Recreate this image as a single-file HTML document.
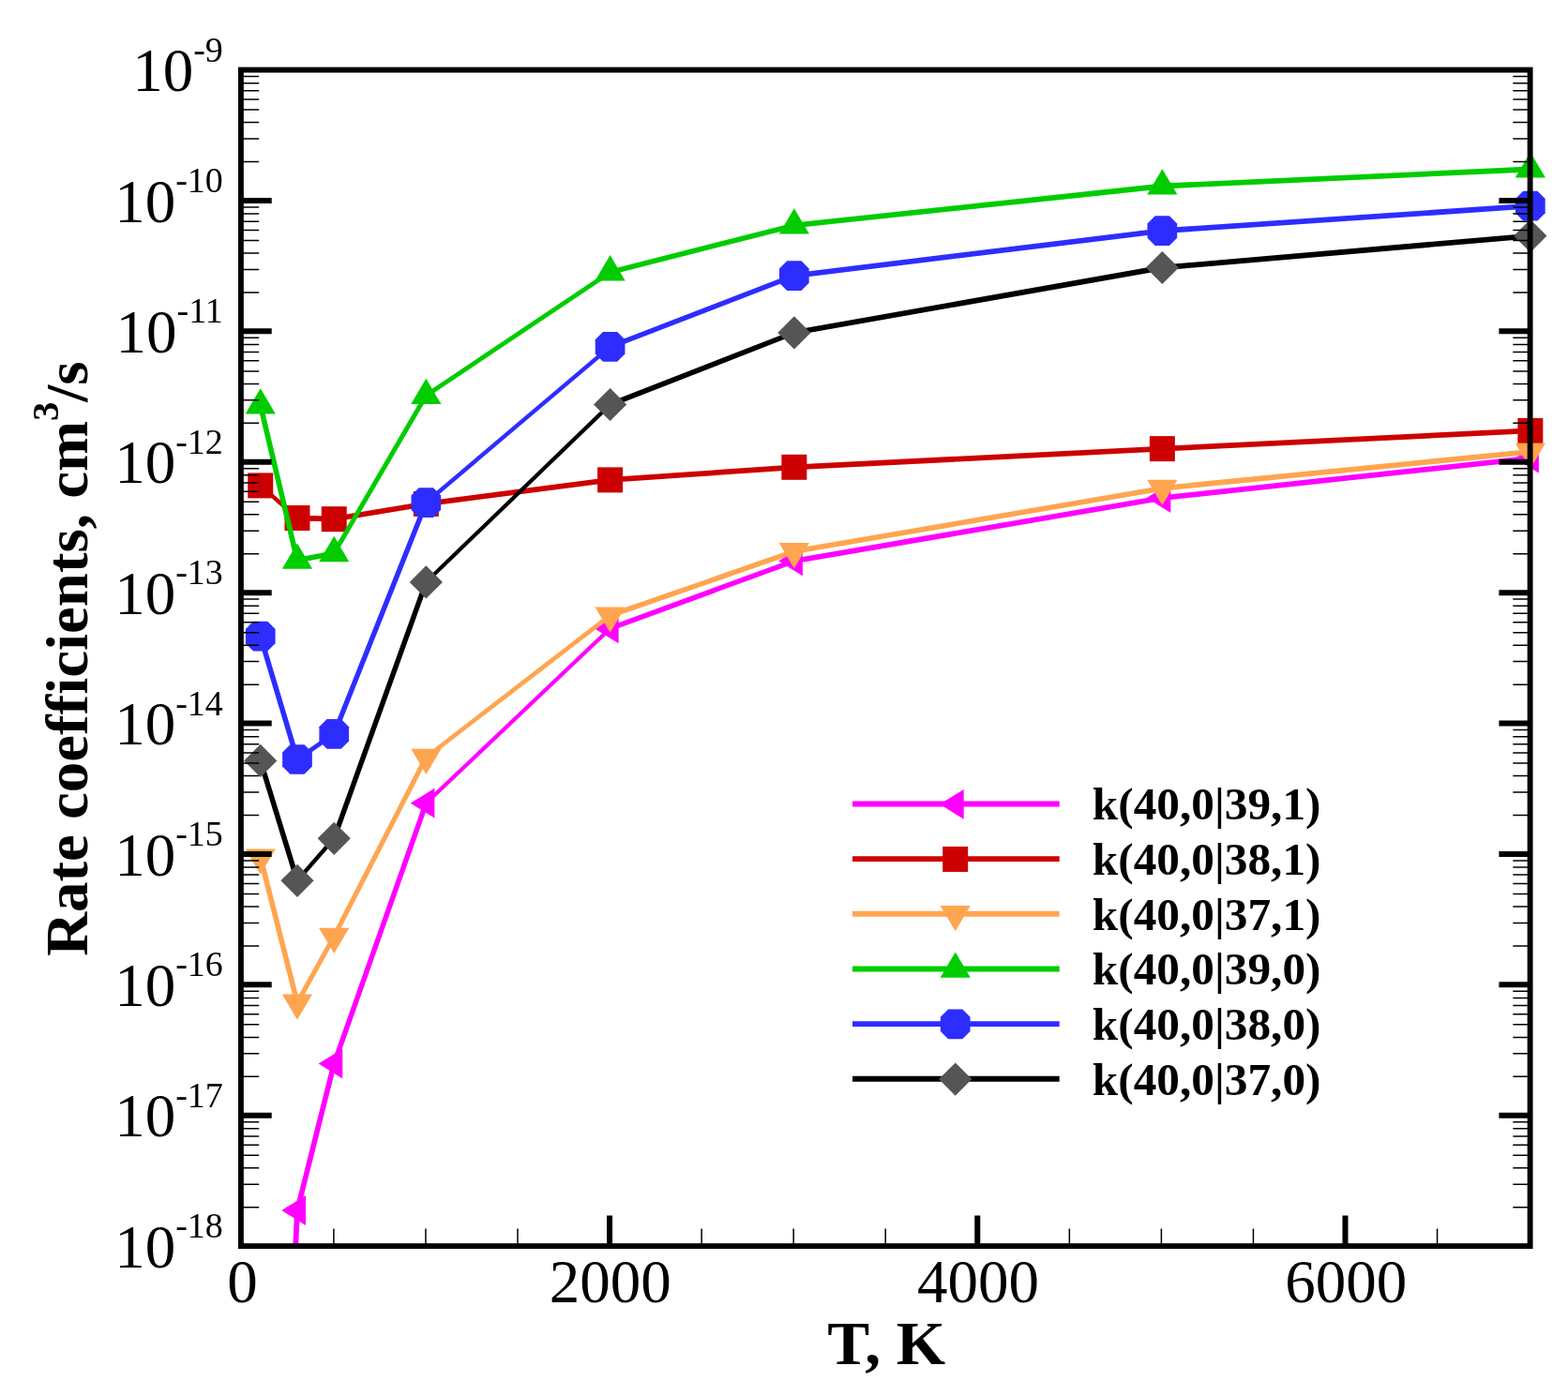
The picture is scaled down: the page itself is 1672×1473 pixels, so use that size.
<!DOCTYPE html>
<html lang="en">
<head>
<meta charset="utf-8">
<title>Rate coefficients vs temperature</title>
<style>
html,body{margin:0;padding:0;background:#fff;}
body{width:1672px;height:1473px;overflow:hidden;}
svg{display:block;}
text{font-family:"Liberation Serif",serif;fill:#000;}
.tick{font-size:65px;}
.sup{font-size:38px;}
.ttl{font-size:65px;font-weight:bold;}
.tsup{font-size:40px;font-weight:bold;}
.leg{font-size:47.7px;font-weight:bold;}
</style>
</head>
<body>
<svg width="1672" height="1473" viewBox="0 0 1672 1473">
<rect x="0" y="0" width="1672" height="1473" fill="#ffffff"/>
<defs><clipPath id="plotclip"><rect x="256.9" y="74.55" width="1374.6999999999998" height="1254.55"/></clipPath></defs>

<g><g clip-path="url(#plotclip)" fill="#FF00FF">
<polygon points="274.83,2145.00 314.08,1291.00 319.88,1291.00 280.62,2145.00"/>
<polygon points="314.08,1291.00 353.33,1134.60 359.12,1134.60 319.88,1291.00"/>
<polygon points="353.33,1134.60 451.45,856.70 457.25,856.70 359.12,1134.60"/>
<polygon points="454.35,853.80 650.60,667.50 650.60,673.30 454.35,859.60"/>
<polygon points="650.60,667.50 846.85,595.40 846.85,601.20 650.60,673.30"/>
<polygon points="846.85,595.40 1239.35,528.20 1239.35,534.00 846.85,601.20"/>
<polygon points="1239.35,528.20 1631.85,485.80 1631.85,491.60 1239.35,534.00"/>
</g>
<polygon points="300.38,1291.00 325.98,1275.10 325.98,1306.90" fill="#FF00FF"/>
<polygon points="339.62,1134.60 365.23,1118.70 365.23,1150.50" fill="#FF00FF"/>
<polygon points="437.75,856.70 463.35,840.80 463.35,872.60" fill="#FF00FF"/>
<polygon points="634.00,670.40 659.60,654.50 659.60,686.30" fill="#FF00FF"/>
<polygon points="830.25,598.30 855.85,582.40 855.85,614.20" fill="#FF00FF"/>
<polygon points="1222.75,531.10 1248.35,515.20 1248.35,547.00" fill="#FF00FF"/>
<polygon points="1615.25,488.70 1640.85,472.80 1640.85,504.60" fill="#FF00FF"/>
</g>

<g><g clip-path="url(#plotclip)" fill="#CC0000">
<polygon points="277.73,515.00 316.98,549.60 316.98,555.40 277.73,520.80"/>
<polygon points="316.98,549.60 356.23,550.80 356.23,556.60 316.98,555.40"/>
<polygon points="356.23,550.80 454.35,534.50 454.35,540.30 356.23,556.60"/>
<polygon points="454.35,534.50 650.60,509.00 650.60,514.80 454.35,540.30"/>
<polygon points="650.60,509.00 846.85,495.40 846.85,501.20 650.60,514.80"/>
<polygon points="846.85,495.40 1239.35,475.75 1239.35,481.55 846.85,501.20"/>
<polygon points="1239.35,475.75 1631.85,456.50 1631.85,462.30 1239.35,481.55"/>
</g>
<rect x="264.23" y="504.40" width="27.0" height="27.0" fill="#CC0000"/>
<rect x="303.48" y="539.00" width="27.0" height="27.0" fill="#CC0000"/>
<rect x="342.73" y="540.20" width="27.0" height="27.0" fill="#CC0000"/>
<rect x="440.85" y="523.90" width="27.0" height="27.0" fill="#CC0000"/>
<rect x="637.10" y="498.40" width="27.0" height="27.0" fill="#CC0000"/>
<rect x="833.35" y="484.80" width="27.0" height="27.0" fill="#CC0000"/>
<rect x="1225.85" y="465.15" width="27.0" height="27.0" fill="#CC0000"/>
<rect x="1618.35" y="445.90" width="27.0" height="27.0" fill="#CC0000"/>
</g>

<g><g clip-path="url(#plotclip)" fill="#FFA550">
<polygon points="274.83,914.50 314.08,1069.50 319.88,1069.50 280.62,914.50"/>
<polygon points="314.08,1069.50 353.33,998.80 359.12,998.80 319.88,1069.50"/>
<polygon points="353.33,998.80 451.45,807.80 457.25,807.80 359.12,998.80"/>
<polygon points="454.35,804.90 650.60,653.60 650.60,659.40 454.35,810.70"/>
<polygon points="650.60,653.60 846.85,585.30 846.85,591.10 650.60,659.40"/>
<polygon points="846.85,585.30 1239.35,517.90 1239.35,523.70 846.85,591.10"/>
<polygon points="1239.35,517.90 1631.85,478.90 1631.85,484.70 1239.35,523.70"/>
</g>
<polygon points="277.73,932.70 293.83,905.40 261.62,905.40" fill="#FFA550"/>
<polygon points="316.98,1087.70 333.08,1060.40 300.88,1060.40" fill="#FFA550"/>
<polygon points="356.23,1017.00 372.33,989.70 340.12,989.70" fill="#FFA550"/>
<polygon points="454.35,826.00 470.45,798.70 438.25,798.70" fill="#FFA550"/>
<polygon points="650.60,674.70 666.70,647.40 634.50,647.40" fill="#FFA550"/>
<polygon points="846.85,606.40 862.95,579.10 830.75,579.10" fill="#FFA550"/>
<polygon points="1239.35,539.00 1255.45,511.70 1223.25,511.70" fill="#FFA550"/>
<polygon points="1631.85,500.00 1647.95,472.70 1615.75,472.70" fill="#FFA550"/>
</g>

<g><g clip-path="url(#plotclip)" fill="#00CC00">
<polygon points="274.83,432.50 314.08,597.70 319.88,597.70 280.62,432.50"/>
<polygon points="316.98,594.80 356.23,587.15 356.23,592.95 316.98,600.60"/>
<polygon points="353.33,590.05 451.45,421.85 457.25,421.85 359.12,590.05"/>
<polygon points="454.35,418.95 650.60,287.40 650.60,293.20 454.35,424.75"/>
<polygon points="650.60,287.40 846.85,237.50 846.85,243.30 650.60,293.20"/>
<polygon points="846.85,237.50 1239.35,195.60 1239.35,201.40 846.85,243.30"/>
<polygon points="1239.35,195.60 1631.85,177.60 1631.85,183.40 1239.35,201.40"/>
</g>
<polygon points="277.73,414.30 293.83,441.60 261.62,441.60" fill="#00CC00"/>
<polygon points="316.98,579.50 333.08,606.80 300.88,606.80" fill="#00CC00"/>
<polygon points="356.23,571.85 372.33,599.15 340.12,599.15" fill="#00CC00"/>
<polygon points="454.35,403.65 470.45,430.95 438.25,430.95" fill="#00CC00"/>
<polygon points="650.60,272.10 666.70,299.40 634.50,299.40" fill="#00CC00"/>
<polygon points="846.85,222.20 862.95,249.50 830.75,249.50" fill="#00CC00"/>
<polygon points="1239.35,180.30 1255.45,207.60 1223.25,207.60" fill="#00CC00"/>
<polygon points="1631.85,162.30 1647.95,189.60 1615.75,189.60" fill="#00CC00"/>
</g>

<g><g clip-path="url(#plotclip)" fill="#2D2DFF">
<polygon points="274.83,678.70 314.08,810.00 319.88,810.00 280.62,678.70"/>
<polygon points="316.98,807.10 356.23,780.00 356.23,785.80 316.98,812.90"/>
<polygon points="353.33,782.90 451.45,536.20 457.25,536.20 359.12,782.90"/>
<polygon points="454.35,533.30 650.60,366.90 650.60,372.70 454.35,539.10"/>
<polygon points="650.60,366.90 846.85,291.20 846.85,297.00 650.60,372.70"/>
<polygon points="846.85,291.20 1239.35,243.30 1239.35,249.10 846.85,297.00"/>
<polygon points="1239.35,243.30 1631.85,216.80 1631.85,222.60 1239.35,249.10"/>
</g>
<polygon points="270.12,662.85 285.33,662.85 293.58,671.10 293.58,686.30 285.33,694.55 270.12,694.55 261.88,686.30 261.88,671.10" fill="#2D2DFF"/>
<polygon points="309.38,794.15 324.58,794.15 332.83,802.40 332.83,817.60 324.58,825.85 309.38,825.85 301.12,817.60 301.12,802.40" fill="#2D2DFF"/>
<polygon points="348.62,767.05 363.83,767.05 372.08,775.30 372.08,790.50 363.83,798.75 348.62,798.75 340.38,790.50 340.38,775.30" fill="#2D2DFF"/>
<polygon points="446.75,520.35 461.95,520.35 470.20,528.60 470.20,543.80 461.95,552.05 446.75,552.05 438.50,543.80 438.50,528.60" fill="#2D2DFF"/>
<polygon points="643.00,353.95 658.20,353.95 666.45,362.20 666.45,377.40 658.20,385.65 643.00,385.65 634.75,377.40 634.75,362.20" fill="#2D2DFF"/>
<polygon points="839.25,278.25 854.45,278.25 862.70,286.50 862.70,301.70 854.45,309.95 839.25,309.95 831.00,301.70 831.00,286.50" fill="#2D2DFF"/>
<polygon points="1231.75,230.35 1246.95,230.35 1255.20,238.60 1255.20,253.80 1246.95,262.05 1231.75,262.05 1223.50,253.80 1223.50,238.60" fill="#2D2DFF"/>
<polygon points="1624.25,203.85 1639.45,203.85 1647.70,212.10 1647.70,227.30 1639.45,235.55 1624.25,235.55 1616.00,227.30 1616.00,212.10" fill="#2D2DFF"/>
</g>

<g><g clip-path="url(#plotclip)" fill="#000000">
<polygon points="274.83,811.40 314.08,939.30 319.88,939.30 280.62,811.40"/>
<polygon points="314.08,939.30 353.33,894.30 359.12,894.30 319.88,939.30"/>
<polygon points="353.33,894.30 451.45,620.90 457.25,620.90 359.12,894.30"/>
<polygon points="454.35,618.00 650.60,428.60 650.60,434.40 454.35,623.80"/>
<polygon points="650.60,428.60 846.85,352.00 846.85,357.80 650.60,434.40"/>
<polygon points="846.85,352.00 1239.35,282.60 1239.35,288.40 846.85,357.80"/>
<polygon points="1239.35,282.60 1631.85,248.70 1631.85,254.50 1239.35,288.40"/>
</g>
<polygon points="260.12,811.40 277.73,793.80 295.33,811.40 277.73,829.00" fill="#555555"/>
<polygon points="299.38,939.30 316.98,921.70 334.58,939.30 316.98,956.90" fill="#555555"/>
<polygon points="338.62,894.30 356.23,876.70 373.83,894.30 356.23,911.90" fill="#555555"/>
<polygon points="436.75,620.90 454.35,603.30 471.95,620.90 454.35,638.50" fill="#555555"/>
<polygon points="633.00,431.50 650.60,413.90 668.20,431.50 650.60,449.10" fill="#555555"/>
<polygon points="829.25,354.90 846.85,337.30 864.45,354.90 846.85,372.50" fill="#555555"/>
<polygon points="1221.75,285.50 1239.35,267.90 1256.95,285.50 1239.35,303.10" fill="#555555"/>
<polygon points="1614.25,251.60 1631.85,234.00 1649.45,251.60 1631.85,269.20" fill="#555555"/>
</g>

<g stroke="#000" fill="none">
<path d="M256.9,172.58h19.3M1631.6,172.58h-18.3M256.9,148.04h19.3M1631.6,148.04h-18.3M256.9,130.62h19.3M1631.6,130.62h-18.3M256.9,117.11h19.3M1631.6,117.11h-18.3M256.9,106.07h19.3M1631.6,106.07h-18.3M256.9,96.74h19.3M1631.6,96.74h-18.3M256.9,88.66h19.3M1631.6,88.66h-18.3M256.9,81.53h19.3M1631.6,81.53h-18.3M256.9,311.98h19.3M1631.6,311.98h-18.3M256.9,287.43h19.3M1631.6,287.43h-18.3M256.9,270.02h19.3M1631.6,270.02h-18.3M256.9,256.51h19.3M1631.6,256.51h-18.3M256.9,245.47h19.3M1631.6,245.47h-18.3M256.9,236.14h19.3M1631.6,236.14h-18.3M256.9,228.05h19.3M1631.6,228.05h-18.3M256.9,220.92h19.3M1631.6,220.92h-18.3M256.9,451.37h19.3M1631.6,451.37h-18.3M256.9,426.83h19.3M1631.6,426.83h-18.3M256.9,409.41h19.3M1631.6,409.41h-18.3M256.9,395.90h19.3M1631.6,395.90h-18.3M256.9,384.86h19.3M1631.6,384.86h-18.3M256.9,375.53h19.3M1631.6,375.53h-18.3M256.9,367.45h19.3M1631.6,367.45h-18.3M256.9,360.32h19.3M1631.6,360.32h-18.3M256.9,590.77h19.3M1631.6,590.77h-18.3M256.9,566.22h19.3M1631.6,566.22h-18.3M256.9,548.80h19.3M1631.6,548.80h-18.3M256.9,535.30h19.3M1631.6,535.30h-18.3M256.9,524.26h19.3M1631.6,524.26h-18.3M256.9,514.93h19.3M1631.6,514.93h-18.3M256.9,506.84h19.3M1631.6,506.84h-18.3M256.9,499.71h19.3M1631.6,499.71h-18.3M256.9,730.16h19.3M1631.6,730.16h-18.3M256.9,705.61h19.3M1631.6,705.61h-18.3M256.9,688.20h19.3M1631.6,688.20h-18.3M256.9,674.69h19.3M1631.6,674.69h-18.3M256.9,663.65h19.3M1631.6,663.65h-18.3M256.9,654.32h19.3M1631.6,654.32h-18.3M256.9,646.24h19.3M1631.6,646.24h-18.3M256.9,639.11h19.3M1631.6,639.11h-18.3M256.9,869.55h19.3M1631.6,869.55h-18.3M256.9,845.01h19.3M1631.6,845.01h-18.3M256.9,827.59h19.3M1631.6,827.59h-18.3M256.9,814.08h19.3M1631.6,814.08h-18.3M256.9,803.05h19.3M1631.6,803.05h-18.3M256.9,793.71h19.3M1631.6,793.71h-18.3M256.9,785.63h19.3M1631.6,785.63h-18.3M256.9,778.50h19.3M1631.6,778.50h-18.3M256.9,1008.95h19.3M1631.6,1008.95h-18.3M256.9,984.40h19.3M1631.6,984.40h-18.3M256.9,966.99h19.3M1631.6,966.99h-18.3M256.9,953.48h19.3M1631.6,953.48h-18.3M256.9,942.44h19.3M1631.6,942.44h-18.3M256.9,933.11h19.3M1631.6,933.11h-18.3M256.9,925.03h19.3M1631.6,925.03h-18.3M256.9,917.90h19.3M1631.6,917.90h-18.3M256.9,1148.34h19.3M1631.6,1148.34h-18.3M256.9,1123.80h19.3M1631.6,1123.80h-18.3M256.9,1106.38h19.3M1631.6,1106.38h-18.3M256.9,1092.87h19.3M1631.6,1092.87h-18.3M256.9,1081.84h19.3M1631.6,1081.84h-18.3M256.9,1072.50h19.3M1631.6,1072.50h-18.3M256.9,1064.42h19.3M1631.6,1064.42h-18.3M256.9,1057.29h19.3M1631.6,1057.29h-18.3M256.9,1287.74h19.3M1631.6,1287.74h-18.3M256.9,1263.19h19.3M1631.6,1263.19h-18.3M256.9,1245.78h19.3M1631.6,1245.78h-18.3M256.9,1232.27h19.3M1631.6,1232.27h-18.3M256.9,1221.23h19.3M1631.6,1221.23h-18.3M256.9,1211.90h19.3M1631.6,1211.90h-18.3M256.9,1203.81h19.3M1631.6,1203.81h-18.3M256.9,1196.68h19.3M1631.6,1196.68h-18.3" stroke-width="1.5"/>
<path d="M256.9,213.94h32.8M1631.6,213.94h-33.2M256.9,353.34h32.8M1631.6,353.34h-33.2M256.9,492.73h32.8M1631.6,492.73h-33.2M256.9,632.13h32.8M1631.6,632.13h-33.2M256.9,771.52h32.8M1631.6,771.52h-33.2M256.9,910.92h32.8M1631.6,910.92h-33.2M256.9,1050.31h32.8M1631.6,1050.31h-33.2M256.9,1189.71h32.8M1631.6,1189.71h-33.2M650.06,1329.1v-32.5M1042.28,1329.1v-32.5M1434.50,1329.1v-32.5" stroke-width="6"/>
<path d="M355.89,1329.1v-18.5M453.95,1329.1v-18.5M552.00,1329.1v-18.5M748.12,1329.1v-18.5M846.17,1329.1v-18.5M944.22,1329.1v-18.5M1140.34,1329.1v-18.5M1238.39,1329.1v-18.5M1336.44,1329.1v-18.5M1532.56,1329.1v-18.5" stroke-width="1.5"/>
<rect x="256.9" y="74.55" width="1374.6999999999998" height="1254.55" stroke-width="5.9" stroke-linejoin="miter"/>
</g>

<g>
<text class="tick" x="237.8" y="97.2" text-anchor="end">10<tspan class="sup" dy="-31.6">-9</tspan></text>
<text class="tick" x="237.8" y="236.5" text-anchor="end">10<tspan class="sup" dy="-31.6">-10</tspan></text>
<text class="tick" x="237.8" y="375.9" text-anchor="end">10<tspan class="sup" dy="-31.6">-11</tspan></text>
<text class="tick" x="237.8" y="515.3" text-anchor="end">10<tspan class="sup" dy="-31.6">-12</tspan></text>
<text class="tick" x="237.8" y="654.7" text-anchor="end">10<tspan class="sup" dy="-31.6">-13</tspan></text>
<text class="tick" x="237.8" y="794.1" text-anchor="end">10<tspan class="sup" dy="-31.6">-14</tspan></text>
<text class="tick" x="237.8" y="933.5" text-anchor="end">10<tspan class="sup" dy="-31.6">-15</tspan></text>
<text class="tick" x="237.8" y="1072.9" text-anchor="end">10<tspan class="sup" dy="-31.6">-16</tspan></text>
<text class="tick" x="237.8" y="1212.3" text-anchor="end">10<tspan class="sup" dy="-31.6">-17</tspan></text>
<text class="tick" x="237.8" y="1351.7" text-anchor="end">10<tspan class="sup" dy="-31.6">-18</tspan></text>
</g>
<g>
<text class="tick" x="258.5" y="1389.0" text-anchor="middle">0</text>
<text class="tick" x="650.8" y="1389.0" text-anchor="middle">2000</text>
<text class="tick" x="1043.0" y="1389.0" text-anchor="middle">4000</text>
<text class="tick" x="1435.2" y="1389.0" text-anchor="middle">6000</text>
</g>

<text class="ttl" transform="translate(945.2,1454.8) scale(1.036,1)" text-anchor="middle">T, K</text>

<text class="ttl" style="font-size:63.6px" transform="translate(92.7,702.6) rotate(-90) scale(1.02,1)" text-anchor="middle">Rate coefficients, cm<tspan class="tsup" dy="-31">3</tspan><tspan dy="31">/s</tspan></text>

<g>
<line x1="909" y1="857.5" x2="1129.7" y2="857.5" stroke="#FF00FF" stroke-width="5.9"/>
<polygon points="1002.10,857.80 1027.70,841.90 1027.70,873.70" fill="#FF00FF"/>
<text class="leg" transform="translate(1164.8,874.2) scale(1.034,1)">k(40,0|39,1)</text>
<line x1="909" y1="916.15" x2="1129.7" y2="916.15" stroke="#CC0000" stroke-width="5.9"/>
<rect x="1005.20" y="902.95" width="27.0" height="27.0" fill="#CC0000"/>
<text class="leg" transform="translate(1164.8,932.9) scale(1.034,1)">k(40,0|38,1)</text>
<line x1="909" y1="974.8" x2="1129.7" y2="974.8" stroke="#FFA550" stroke-width="5.9"/>
<polygon points="1018.70,993.30 1034.80,966.00 1002.60,966.00" fill="#FFA550"/>
<text class="leg" transform="translate(1164.8,991.5) scale(1.034,1)">k(40,0|37,1)</text>
<line x1="909" y1="1033.45" x2="1129.7" y2="1033.45" stroke="#00CC00" stroke-width="5.9"/>
<polygon points="1018.70,1015.55 1034.80,1042.85 1002.60,1042.85" fill="#00CC00"/>
<text class="leg" transform="translate(1164.8,1050.2) scale(1.034,1)">k(40,0|39,0)</text>
<line x1="909" y1="1092.1" x2="1129.7" y2="1092.1" stroke="#2D2DFF" stroke-width="5.9"/>
<polygon points="1011.10,1076.55 1026.30,1076.55 1034.55,1084.80 1034.55,1100.00 1026.30,1108.25 1011.10,1108.25 1002.85,1100.00 1002.85,1084.80" fill="#2D2DFF"/>
<text class="leg" transform="translate(1164.8,1108.8) scale(1.034,1)">k(40,0|38,0)</text>
<line x1="909" y1="1150.75" x2="1129.7" y2="1150.75" stroke="#000000" stroke-width="5.9"/>
<polygon points="1001.10,1151.05 1018.70,1133.45 1036.30,1151.05 1018.70,1168.65" fill="#555555"/>
<text class="leg" transform="translate(1164.8,1167.5) scale(1.034,1)">k(40,0|37,0)</text>
</g>

</svg>
</body>
</html>
